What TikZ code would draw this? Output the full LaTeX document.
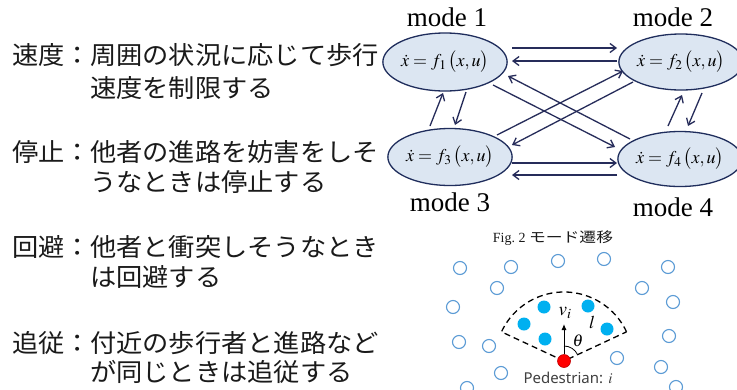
\documentclass[tikz,border=0pt]{standalone}
\usepackage{mathptmx}
\usepackage{fontspec}
\setmainfont{Liberation Serif}
\newfontfamily\jp[FakeStretch=1.05]{Noto Sans CJK JP}
\newfontfamily\jpcap[FakeStretch=1.2]{Noto Sans CJK JP}
\newfontfamily\pedfont{Noto Sans}
\usetikzlibrary{arrows.meta,calc,shapes.geometric}
\definecolor{navy}{RGB}{38,44,90}
\definecolor{ellline}{RGB}{31,45,92}
\definecolor{ellfill}{RGB}{220,230,242}
\definecolor{opencirc}{RGB}{91,155,213}
\definecolor{fillcirc}{RGB}{0,176,240}
\definecolor{pedred}{RGB}{255,0,0}
\definecolor{pedline}{RGB}{192,0,0}
\definecolor{txt}{RGB}{26,26,26}
\newcommand{\modeeq}[1]{$\dot{x}=f_{#1}\,\bigl(x,u\bigr)$}
\tikzset{
  jptext/.style={font=\jp\fontsize{25}{31}\selectfont, text=txt, inner sep=0pt, anchor=west},
  modelabel/.style={font=\fontsize{27}{30}\selectfont, inner sep=0pt},
  modebox/.style={ellipse, draw=ellline, fill=ellfill, line width=1.3pt, inner sep=0pt,
    font=\fontsize{18}{20}\selectfont},
  arr/.style={draw=navy, line width=1.3pt, -{Straight Barb[length=6pt,width=9pt,line width=1.3pt]}},
  ocirc/.style={circle, draw=opencirc, fill=white, line width=1.1pt, minimum size=13pt, inner sep=0pt},
  fcirc/.style={circle, fill=fillcirc, minimum size=13pt, inner sep=0pt},
}
\begin{document}
\begin{tikzpicture}[x=1pt,y=1pt]
\path[use as bounding box, fill=white] (0,0) rectangle (737,-389);

% left text
\node[jptext] (k1) at (12,-55) {速度：};
\node[jptext] (t1a) at (90,-55) {周囲の状況に応じて歩行};
\node[jptext] (t1b) at (90,-88) {速度を制限する};
\node[jptext] (k2) at (12,-152) {停止：};
\node[jptext] (t2a) at (90,-152) {他者の進路を妨害をしそ};
\node[jptext] (t2b) at (90,-182) {うなときは停止する};
\node[jptext] (k3) at (12,-247) {回避：};
\node[jptext] (t3a) at (90,-247) {他者と衝突しそうなとき};
\node[jptext] (t3b) at (90,-277) {は回避する};
\node[jptext] (k4) at (12,-343) {追従：};
\node[jptext] (t4a) at (90,-343) {付近の歩行者と進路など};
\node[jptext] (t4b) at (90,-372) {が同じときは追従する};

% modes
\node[modelabel] (ml1) at (447,-17) {mode 1};
\node[modelabel] (ml2) at (673,-17) {mode 2};
\node[modelabel] (ml3) at (450,-202) {mode 3};
\node[modelabel] (ml4) at (673,-207) {mode 4};

\node[modebox, minimum width=116pt, minimum height=58pt] (m1) at (445,-62) {\modeeq{1}};
\node[modebox, minimum width=110pt, minimum height=56pt] (m2) at (681,-62) {\modeeq{2}};
\node[modebox, minimum width=114pt, minimum height=57pt] (m3) at (450,-157) {\modeeq{3}};
\node[modebox, minimum width=110pt, minimum height=55pt] (m4) at (680,-159) {\modeeq{4}};

\draw[arr] ([shift={(67,14)}]m1.center) -- ([shift={(-64,14)}]m2.center);
\draw[arr] ([shift={(-64,1)}]m2.center) -- ([shift={(67,1)}]m1.center);
\draw[arr] ([shift={(48,-23)}]m1.center) -- ([shift={(-65,12)}]m4.center);
\draw[arr] ([shift={(-50,20)}]m4.center) -- ([shift={(63,-14)}]m1.center);
\draw[arr] ([shift={(47,22)}]m3.center) -- ([shift={(-58,-9)}]m2.center);
\draw[arr] ([shift={(-48,-20)}]m2.center) -- ([shift={(62,12)}]m3.center);
\draw[arr] ([shift={(62,-6)}]m3.center) -- ([shift={(-63,-4)}]m4.center);
\draw[arr] ([shift={(-63,-16)}]m4.center) -- ([shift={(62,-18)}]m3.center);
\draw[arr] ([shift={(-20,31)}]m3.center) -- ([shift={(-2,-31)}]m1.center);
\draw[arr] ([shift={(21,-30)}]m1.center) -- ([shift={(5,32)}]m3.center);
\draw[arr] ([shift={(-12,33)}]m4.center) -- ([shift={(1,-33)}]m2.center);
\draw[arr] ([shift={(21,-31)}]m2.center) -- ([shift={(8,33)}]m4.center);

% caption
\node[inner sep=0pt, font=\fontsize{14}{16}\selectfont, text=txt] (cap) at (553,-238) {Fig.~2 {\jpcap モード遷移}};

% open circles
\foreach \px/\py [count=\i] in {460/268, 511/267, 558/261, 604/259, 668/267, 497/288, 642/288,
  453/307, 673/302, 459/342, 489/346, 669/336, 617/358, 661/367, 501/373, 467/388, 676/387}
  \node[ocirc] (o\i) at (\px,-\py) {};

% sector
\coordinate (apex) at (564,-361);
\draw[dashed, dash pattern=on 6pt off 4pt, line width=1.3pt, black]
  ($(apex)+(25:69)$) arc[start angle=25, end angle=155, radius=69] -- (apex) -- cycle;
\draw[line width=0.8pt] ($(apex)+(90:15)$) arc[start angle=90, end angle=25, radius=15];

% filled circles
\foreach \px/\py [count=\i] in {544/307, 588/306, 524/324, 607/329, 545/339}
  \node[fcirc] (f\i) at (\px,-\py) {};

% pedestrian
\node[circle, fill=pedred, draw=pedline, line width=0.6pt, minimum size=13pt, inner sep=0pt] (ped) at (apex) {};
\coordinate (vtip) at (564,-324);
\draw[line width=1pt, -{Latex[length=6pt,width=5pt]}] (ped.north) -- (vtip);
\node[inner sep=0pt, font=\fontsize{19}{21}\selectfont] (vlab) at (565,-313) {$v_i$};
\node[inner sep=0pt, font=\fontsize{17}{19}\selectfont] (th) at (578,-341) {$\theta$};
\node[inner sep=0pt, font=\fontsize{18}{20}\selectfont] (ll) at (592,-322) {$l$};
\node[inner sep=0pt, font=\pedfont\fontsize{15}{18}\selectfont, text={rgb,255:red,64;green,64;blue,64}] (pl) at (568,-378) {Pedestrian: $i$};
\end{tikzpicture}
\end{document}
